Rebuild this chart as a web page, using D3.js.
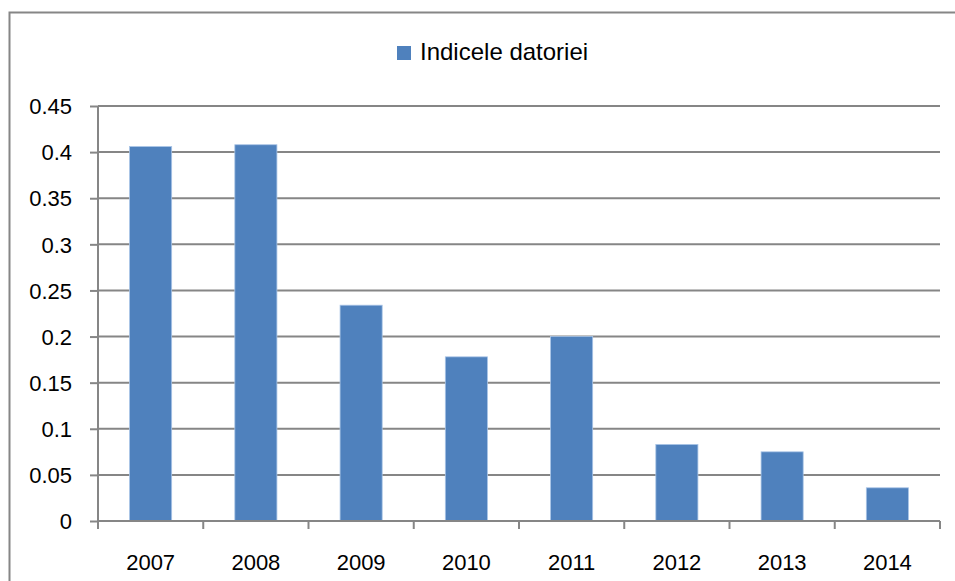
<!DOCTYPE html>
<html>
<head>
<meta charset='utf-8'>
<script src='https://d3js.org/d3.v7.min.js'></script>
<style>
body { margin: 0; background: #fff; }
text { font-family: 'Liberation Sans', Arial, sans-serif; fill: #000; }
</style>
</head>
<body>
<div id='chart'></div>
<script>
var years = ['2007', '2008', '2009', '2010', '2011', '2012', '2013', '2014'];
var values = [0.406, 0.408, 0.234, 0.178, 0.2, 0.083, 0.075, 0.036];
var yTicks = [0, 0.05, 0.1, 0.15, 0.2, 0.25, 0.3, 0.35, 0.4, 0.45];
var seriesName = 'Indicele datoriei';

var W = 955, H = 581;
var margin = {top: 106, right: 15, bottom: 60, left: 98};
var width = W - margin.left - margin.right,
    height = H - margin.top - margin.bottom;

var svg = d3.select('#chart').append('svg')
  .attr('width', W)
  .attr('height', H);

// outer chart border
svg.append('path')
  .attr('d', 'M9.5,' + H + 'V12.5H' + W)
  .attr('fill', 'none')
  .attr('stroke', '#868686')
  .attr('stroke-width', 2);

var g = svg.append('g')
  .attr('transform', 'translate(' + margin.left + ',' + margin.top + ')');

var x = d3.scaleBand().domain(years).range([0, width]).paddingInner(0.6).paddingOuter(0.3);
var xCat = d3.scaleBand().domain(years).range([0, width]);
var y = d3.scaleLinear().domain([0, 0.45]).range([height, 0]);

// gridlines
g.selectAll('.grid')
  .data(yTicks.slice(1))
  .enter().append('line')
  .attr('x1', 0).attr('x2', width)
  .attr('y1', function(d) { return y(d); })
  .attr('y2', function(d) { return y(d); })
  .attr('stroke', '#868686')
  .attr('stroke-width', 2);

// bars
g.selectAll('.bar')
  .data(values)
  .enter().append('rect')
  .attr('x', function(d, i) { return x(years[i]); })
  .attr('width', x.bandwidth())
  .attr('y', function(d) { return y(d); })
  .attr('height', function(d) { return height - y(d); })
  .attr('fill', '#4f81bd')
  .attr('stroke', '#a9c4e6')
  .attr('stroke-width', 0.8);

// y axis
var yAxis = g.append('g')
  .call(d3.axisLeft(y).tickValues(yTicks).tickSize(8).tickPadding(18)
    .tickFormat(function(d) { return String(d); }));
yAxis.select('.domain').attr('stroke', '#868686').attr('stroke-width', 2)
  .attr('d', 'M0,' + height + 'V0');
yAxis.selectAll('.tick line').attr('stroke', '#868686').attr('stroke-width', 2);
yAxis.selectAll('text').style('font-size', '22px').attr('dy', '0.35em');

// x axis
var xAxis = g.append('g')
  .attr('transform', 'translate(0,' + height + ')')
  .call(d3.axisBottom(xCat).tickSize(0).tickPadding(33));
xAxis.select('.domain').attr('stroke', '#868686').attr('stroke-width', 2)
  .attr('d', 'M0,0H' + width);
xAxis.selectAll('text').style('font-size', '22px');
xAxis.selectAll('.cat-tick')
  .data(d3.range(years.length + 1))
  .enter().append('line')
  .attr('x1', function(i) { return i * xCat.step(); })
  .attr('x2', function(i) { return i * xCat.step(); })
  .attr('y1', 0).attr('y2', 8)
  .attr('stroke', '#868686')
  .attr('stroke-width', 2);

// legend
var legend = svg.append('g').attr('transform', 'translate(397,46)');
legend.append('rect')
  .attr('width', 14).attr('height', 14)
  .attr('fill', '#4f81bd');
legend.append('text')
  .attr('x', 23).attr('y', 14)
  .style('font-size', '24px')
  .text(seriesName);
</script>
</body>
</html>
